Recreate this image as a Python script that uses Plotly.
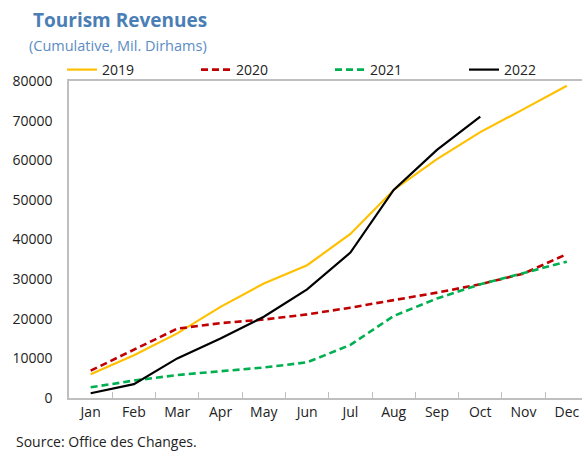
import plotly.graph_objects as go

months = ["Jan", "Feb", "Mar", "Apr", "May", "Jun", "Jul", "Aug", "Sep", "Oct", "Nov", "Dec"]
rev_2019 = [6000, 10800, 16300, 23000, 28900, 33500, 41400, 52500, 60300, 67100, 72900, 78800]
rev_2020 = [6900, 12300, 17500, 18900, 19800, 21100, 22800, 24700, 26600, 28700, 31400, 36300]
rev_2021 = [2700, 4400, 5800, 6800, 7700, 9000, 13400, 20700, 25100, 28700, 31600, 34400]
rev_2022 = [1200, 3500, 10000, 15000, 20500, 27400, 36700, 52500, 62600, 71000]

series = [
    ("2019", rev_2019, "#FFC000", "solid", 2.2),
    ("2020", rev_2020, "#C00000", "7px,4px", 2.6),
    ("2021", rev_2021, "#00B050", "7px,4px", 2.6),
    ("2022", rev_2022, "#000000", "solid", 2.2),
]

fig = go.Figure()
for name, vals, color, dash, lw in series:
    fig.add_trace(go.Scatter(
        x=months[:len(vals)], y=vals, name=name, mode="lines",
        line=dict(color=color, width=lw, dash=dash),
    ))

L, R, T, B = 69, 0, 81, 55
W, H = 582, 453
pw = W - L - R
ph = H - T - B

def px(x):
    return (x - L) / pw

def py(y):
    return (H - B - y) / ph

font = "Open Sans, Noto Sans, sans-serif"

fig.update_layout(
    width=W, height=H,
    margin=dict(l=L, r=R, t=T, b=B, autoexpand=False),
    plot_bgcolor="white", paper_bgcolor="white",
    font=dict(family=font, size=14, color="#222222"),
    showlegend=True,
    legend=dict(
        orientation="h", x=px(62), y=py(70), xanchor="left", yanchor="middle",
        entrywidth=89, entrywidthmode="pixels",
        font=dict(size=14, color="#222222"), bgcolor="rgba(0,0,0,0)",
        itemwidth=30, tracegroupgap=0,
    ),
    xaxis=dict(
        type="category", range=[-0.5, 11.35], automargin=False,
        showline=True, linecolor="#BFBFBF", linewidth=1.5, mirror=True,
        ticks="inside", tickson="boundaries", ticklen=6, tickcolor="#BFBFBF",
        showgrid=False, zeroline=False,
        tickfont=dict(size=14, color="#222222"),
    ),
    yaxis=dict(
        range=[0, 80000], dtick=10000, tickformat="d", automargin=False,
        showline=True, linecolor="#BFBFBF", linewidth=1.5, mirror=True,
        ticks="", showgrid=False, zeroline=False,
        ticklabelstandoff=12,
        tickfont=dict(size=14, color="#222222"),
    ),
    annotations=[
        dict(text="<b>Tourism Revenues</b>", xref="paper", yref="paper",
             x=px(31), y=py(20), xanchor="left", yanchor="middle", showarrow=False,
             font=dict(size=19, color="#4A7EB5", family=font)),
        dict(text="(Cumulative, Mil. Dirhams)", xref="paper", yref="paper",
             x=px(27), y=py(45), xanchor="left", yanchor="middle", showarrow=False,
             font=dict(size=14.5, color="#5B8CC4", family=font)),
        dict(text="Source: Office des Changes.", xref="paper", yref="paper",
             x=px(14), y=py(441), xanchor="left", yanchor="middle", showarrow=False,
             font=dict(size=14, color="#222222", family=font)),
    ],
)

fig.write_html("out.html", config={"displayModeBar": False})

with open("out.html", "r", encoding="utf-8") as f:
    html = f.read()
html = html.replace("<body>", '<body style="margin:0;padding:0;overflow:hidden">', 1)
with open("out.html", "w", encoding="utf-8") as f:
    f.write(html)
